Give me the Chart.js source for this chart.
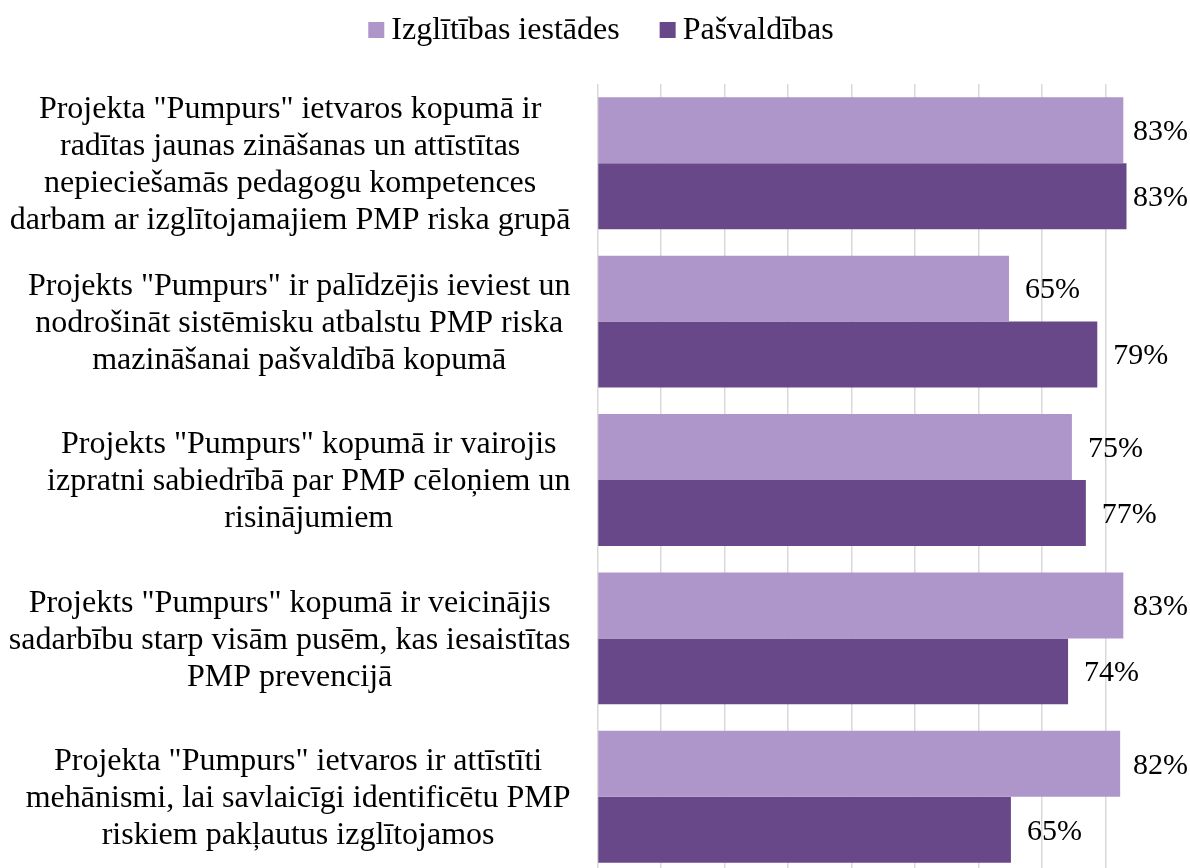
<!DOCTYPE html>
<html>
<head>
<meta charset="utf-8">
<script src="https://cdn.jsdelivr.net/npm/chart.js@4/dist/chart.umd.min.js"></script>
<style>
    html, body { margin: 0; padding: 0; background: #fff; overflow: hidden; }
    #wrap { position: relative; width: 1190px; height: 880px; }
</style>
</head>
<body>
<div id="wrap"><canvas id="pumpursChart"></canvas></div>
<script>
const statements = [
    ['Projekta "Pumpurs" ietvaros kopumā ir', 'radītas jaunas zināšanas un attīstītas', 'nepieciešamās pedagogu kompetences', 'darbam ar izglītojamajiem PMP riska grupā'],
    ['Projekts "Pumpurs" ir palīdzējis ieviest un', 'nodrošināt sistēmisku atbalstu PMP riska', 'mazināšanai pašvaldībā kopumā'],
    ['Projekts "Pumpurs" kopumā ir vairojis', 'izpratni sabiedrībā par PMP cēloņiem un', 'risinājumiem'],
    ['Projekts "Pumpurs" kopumā ir veicinājis', 'sadarbību starp visām pusēm, kas iesaistītas', 'PMP prevencijā'],
    ['Projekta "Pumpurs" ietvaros ir attīstīti', 'mehānismi, lai savlaicīgi identificētu PMP', 'riskiem pakļautus izglītojamos']
];
const schoolValues = [82.8, 64.8, 74.7, 82.8, 82.3];
const municipalityValues = [83.3, 78.7, 76.9, 74.1, 65.1];
const seriesNames = ['Izglītības iestādes', 'Pašvaldības'];
const seriesColors = ['#ae95ca', '#684889'];

const serif = '"Liberation Serif", "Times New Roman", serif';

// category text, right edge of each block sits 27px left of the axis
const statementLabels = {
    id: 'statementLabels',
    afterDraw(chart) {
        const ctx = chart.ctx;
        const yScale = chart.scales.y;
        ctx.save();
        ctx.font = '32px ' + serif;
        ctx.fillStyle = '#000';
        ctx.textAlign = 'center';
        ctx.textBaseline = 'middle';
        statements.forEach((lines, i) => {
            const yc = yScale.getPixelForValue(i) + 2;
            const w = Math.max(...lines.map(l => ctx.measureText(l).width));
            const xc = chart.chartArea.left - 27 - w / 2;
            lines.forEach((line, k) => {
                ctx.fillText(line, xc, yc + (k - (lines.length - 1) / 2) * 37);
            });
        });
        ctx.restore();
    }
};

const valueLabels = {
    id: 'valueLabels',
    afterDatasetsDraw(chart) {
        const ctx = chart.ctx;
        ctx.save();
        ctx.font = '30px ' + serif;
        ctx.fillStyle = '#000';
        ctx.textAlign = 'left';
        ctx.textBaseline = 'middle';
        chart.data.datasets.forEach((ds, di) => {
            chart.getDatasetMeta(di).data.forEach((bar, i) => {
                const text = Math.round(ds.data[i]) + '%';
                const w = ctx.measureText(text).width;
                const x = Math.min(bar.x + 16, chart.width - 2 - w);
                ctx.fillText(text, x, bar.y + 2);
            });
        });
        ctx.restore();
    }
};

const topLegend = {
    id: 'topLegend',
    afterDraw(chart) {
        const ctx = chart.ctx;
        ctx.save();
        ctx.font = '32px ' + serif;
        ctx.textBaseline = 'middle';
        ctx.textAlign = 'left';
        const items = chart.data.datasets.map(ds => ({
            text: ds.label, color: ds.backgroundColor, w: ctx.measureText(ds.label).width
        }));
        const total = items.reduce((s, it) => s + 16 + 7 + it.w, 0) + 40 * (items.length - 1);
        let x = chart.width / 2 - total / 2 + 6;
        items.forEach(it => {
            ctx.fillStyle = it.color;
            ctx.fillRect(x, 22, 16, 16);
            ctx.fillStyle = '#000';
            ctx.fillText(it.text, x + 23, 31);
            x += 16 + 7 + it.w + 40;
        });
        ctx.restore();
    }
};

const pumpursData = {
    labels: statements.map(s => s.join(' ')),
    datasets: [
        { label: seriesNames[0], data: schoolValues, backgroundColor: seriesColors[0] },
        { label: seriesNames[1], data: municipalityValues, backgroundColor: seriesColors[1] }
    ]
};

const pumpursConfig = {
    type: 'bar',
    data: pumpursData,
    options: {
        indexAxis: 'y',
        responsive: true,
        maintainAspectRatio: false,
        animation: false,
        layout: { padding: { left: 597.5, top: 84, right: 0, bottom: 4 } },
        datasets: { bar: { categoryPercentage: 0.833, barPercentage: 1 } },
        scales: {
            x: {
                min: 0,
                max: 93.3,
                ticks: { display: false, stepSize: 10 },
                afterBuildTicks: scale => { scale.ticks = scale.ticks.filter(t => t.value % 10 === 0); },
                grid: { color: '#d9d9d9', lineWidth: 1.5, drawTicks: false },
                border: { display: false }
            },
            y: { display: false }
        },
        plugins: {
            legend: { display: false },
            tooltip: { enabled: false }
        }
    },
    plugins: [statementLabels, valueLabels, topLegend]
};

const pumpursChart = new Chart(
    document.getElementById('pumpursChart'),
    pumpursConfig
);
</script>
</body>
</html>
